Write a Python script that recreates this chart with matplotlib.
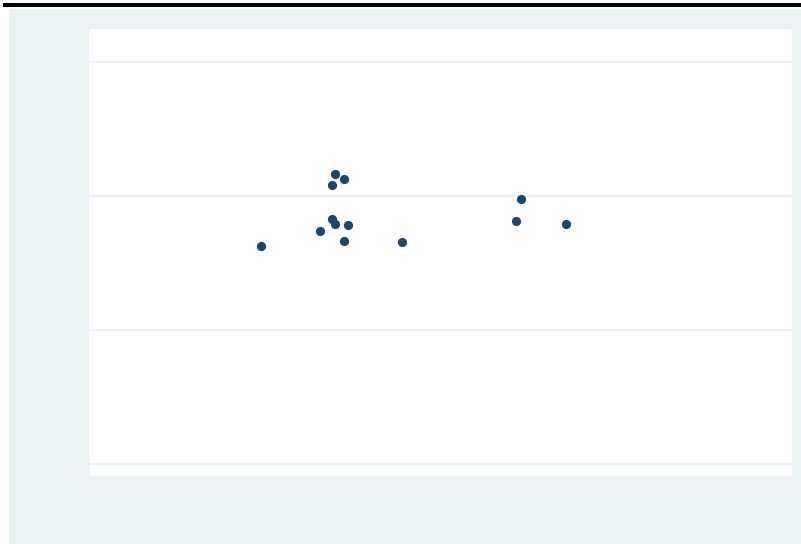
import matplotlib.pyplot as plt
from matplotlib.patches import Rectangle

# Scatter points (x on a 0-100 scale, y on a 0-3 scale)
xs = [24.5, 32.9, 34.6, 35.0, 36.3, 36.8, 34.6, 35.0, 36.3, 44.5, 60.7, 61.5, 67.9]
ys = [1.627, 1.739, 1.828, 1.791, 1.664, 1.784, 2.082, 2.164, 2.127, 1.657, 1.813, 1.978, 1.791]
yticks = [0, 1, 2, 3]

W, H = 801, 544
fig = plt.figure(figsize=(W / 100, H / 100), dpi=100)
fig.patch.set_facecolor('white')

# outer Stata-like background and top black rule
fig.patches.append(Rectangle((9 / W, 0), 1 - 9 / W, 1 - 9 / H, transform=fig.transFigure,
                             facecolor='#eaf2f3', edgecolor='none', zorder=-10))
fig.patches.append(Rectangle((3 / W, 1 - 7 / H), 1 - 3 / W, 4 / H, transform=fig.transFigure,
                             facecolor='black', edgecolor='none', zorder=-9))

ax = fig.add_axes([89 / W, 1 - 476 / H, (792 - 89) / W, (476 - 29) / H])
ax.set_facecolor('white')
ax.scatter(xs, ys, s=44, color='#1a476f', zorder=3, linewidths=0)

ax.set_xlim(0, 100)
ax.set_ylim(-12 / 134, 3 + 33 / 134)
ax.set_yticks(yticks)
ax.grid(axis='y', color='#eaf2f3', linewidth=1.5)
ax.set_axisbelow(True)
ax.tick_params(left=False, bottom=False, labelleft=False, labelbottom=False)
for s in ax.spines.values():
    s.set_visible(False)

fig.savefig('out.png', dpi=100)
